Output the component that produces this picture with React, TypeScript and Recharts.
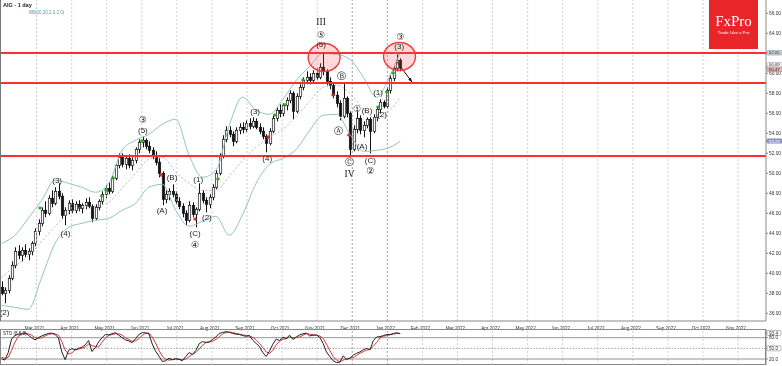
import { ComposedChart, Bar, Line, XAxis, YAxis, ReferenceLine, ReferenceDot } from 'recharts';

// one slot = two trading days
const months = ['Mar 2021', 'Apr 2021', 'May 2021', 'Jun 2021', 'Jul 2021', 'Aug 2021', 'Sep 2021', 'Oct 2021', 'Nov 2021', 'Dec 2021', 'Jan 2022',
  'Feb 2022', 'Mar 2022', 'Apr 2022', 'May 2022', 'Jun 2022', 'Jul 2022', 'Aug 2022', 'Sep 2022', 'Oct 2022', 'Nov 2022'];

const opens = [38.6, 38.0, 38.3, 39.5, 40.8, 42.2, 41.8, 42.3, 41.9, 42.2,
  43.0, 44.2, 45.0, 46.3, 46.0, 47.5, 47.0, 48.2, 47.7, 45.8,
  46.3, 47.0, 46.3, 46.9, 46.5, 46.8, 47.1, 46.7, 45.5, 46.6,
  47.2, 47.9, 48.5, 48.2, 49.5, 50.8, 51.6, 50.9, 51.5, 50.8,
  51.3, 52.4, 53.1, 53.3, 52.7, 52.3, 51.7, 51.1, 50.0, 47.4,
  47.9, 48.2, 47.9, 47.2, 46.7, 46.0, 45.3, 46.8, 45.9, 46.4,
  48.0, 47.3, 46.9, 47.6, 48.6, 50.0, 51.7, 53.4, 54.3, 53.9,
  53.2, 54.3, 54.6, 54.4, 55.0, 54.7, 55.2, 54.6, 54.2, 53.7,
  53.0, 54.2, 55.5, 56.3, 56.0, 56.8, 57.3, 58.0, 56.2, 57.7,
  58.6, 59.3, 59.6, 59.3, 60.0, 59.6, 60.6, 60.2, 59.2, 58.8,
  57.8, 57.0, 55.7, 57.5, 56.0, 52.4, 54.4, 55.5, 54.3, 54.8,
  55.4, 54.2, 55.6, 56.4, 57.1, 56.7, 58.3, 59.5, 60.5, 61.3];
const highs = [39.2, 38.6, 39.8, 41.2, 42.6, 42.8, 42.6, 42.9, 42.5, 43.2,
  44.5, 45.4, 46.6, 47.2, 47.8, 48.3, 48.6, 49.0, 48.0, 46.6,
  47.3, 47.4, 47.2, 47.3, 47.0, 47.5, 47.6, 46.9, 46.9, 47.4,
  48.2, 48.8, 49.1, 49.8, 51.0, 52.0, 52.0, 51.8, 51.9, 51.6,
  52.6, 53.4, 53.7, 53.5, 53.2, 52.6, 52.2, 51.5, 50.2, 48.3,
  48.5, 48.9, 48.2, 47.6, 47.0, 46.3, 47.2, 47.1, 46.6, 49.0,
  48.3, 47.6, 47.9, 48.9, 50.3, 52.0, 53.8, 54.7, 54.7, 54.2,
  54.6, 55.0, 55.1, 55.3, 55.5, 55.6, 55.5, 55.0, 54.6, 53.9,
  54.5, 55.8, 56.6, 56.9, 57.0, 57.6, 58.3, 58.2, 58.0, 58.9,
  59.6, 60.2, 60.0, 60.3, 60.5, 61.0, 62.1, 60.4, 59.6, 59.0,
  58.2, 57.3, 59.1, 57.7, 56.2, 54.8, 56.2, 55.8, 55.2, 55.6,
  55.6, 55.9, 56.7, 57.4, 57.3, 58.6, 59.8, 60.8, 61.9, 61.5];
const lows = [37.8, 37.0, 38.0, 39.3, 40.5, 41.4, 41.2, 41.6, 41.3, 41.8,
  42.7, 43.8, 44.7, 45.6, 45.8, 46.6, 46.8, 47.4, 45.4, 44.8,
  45.9, 46.0, 46.0, 46.2, 46.0, 46.4, 46.5, 45.1, 45.3, 46.3,
  46.9, 47.5, 47.9, 48.0, 49.3, 50.5, 50.6, 50.4, 50.5, 50.3,
  51.0, 52.0, 52.6, 52.4, 52.0, 51.4, 50.8, 49.6, 46.8, 47.0,
  47.3, 47.6, 46.9, 46.4, 45.6, 44.8, 45.1, 45.6, 44.6, 46.2,
  47.0, 46.1, 46.5, 47.3, 48.4, 49.8, 51.5, 53.1, 53.6, 52.7,
  53.0, 53.9, 54.0, 54.1, 54.4, 54.5, 54.4, 53.9, 53.4, 52.1,
  52.8, 54.0, 55.2, 55.6, 55.7, 56.3, 57.0, 55.4, 56.0, 57.4,
  58.3, 58.9, 58.9, 59.0, 59.3, 59.4, 59.8, 58.8, 58.4, 57.5,
  56.6, 55.3, 55.5, 55.6, 51.6, 52.2, 54.0, 53.9, 53.6, 54.5,
  52.0, 54.0, 55.2, 56.0, 56.5, 56.5, 58.0, 59.2, 60.2, 60.2];
const closes = [38.0, 38.3, 39.5, 40.8, 42.2, 41.8, 42.3, 41.9, 42.2, 43.0,
  44.2, 45.0, 46.3, 46.0, 47.5, 47.0, 48.2, 47.7, 45.8, 46.3,
  47.0, 46.3, 46.9, 46.5, 46.8, 47.1, 46.7, 45.5, 46.6, 47.2,
  47.9, 48.5, 48.2, 49.5, 50.8, 51.6, 50.9, 51.5, 50.8, 51.3,
  52.4, 53.1, 53.3, 52.7, 52.3, 51.7, 51.1, 50.0, 47.4, 47.9,
  48.2, 47.9, 47.2, 46.7, 46.0, 45.3, 46.8, 45.9, 46.4, 48.0,
  47.3, 46.9, 47.6, 48.6, 50.0, 51.7, 53.4, 54.3, 53.9, 53.2,
  54.3, 54.6, 54.4, 55.0, 54.7, 55.2, 54.6, 54.2, 53.7, 53.0,
  54.2, 55.5, 56.3, 56.0, 56.8, 57.3, 58.0, 56.2, 57.7, 58.6,
  59.3, 59.6, 59.3, 60.0, 59.6, 60.6, 60.2, 59.2, 58.8, 57.8,
  57.0, 55.7, 57.5, 56.0, 52.4, 54.4, 55.5, 54.3, 54.8, 55.4,
  54.2, 55.6, 56.4, 57.1, 56.7, 58.3, 59.5, 60.5, 61.3, 60.5];

// Bollinger bands, read every 4th slot
const bbIdx = [0, 4, 8, 12, 16, 20, 24, 28, 32, 36, 40, 44, 48, 52, 56, 60, 64, 68, 72, 76, 80, 84, 88, 92, 96, 100, 104, 108, 112, 116, 119];
const bbUpper = [43.0, 43.8, 45.5, 47.3, 49.3, 49.0, 48.6, 48.1, 49.0, 52.3, 53.3, 53.9, 54.9, 55.4, 51.8, 49.6, 50.3, 54.8, 57.6, 56.3, 55.9, 57.4, 59.3, 60.7, 62.0, 61.9, 61.4, 59.6, 57.6, 59.8, 62.1];
const bbMiddle = [39.6, 40.7, 41.7, 43.2, 44.7, 46.0, 46.6, 46.7, 47.1, 48.5, 50.0, 51.4, 51.6, 50.1, 49.0, 48.3, 48.3, 49.7, 51.3, 52.6, 53.6, 54.4, 55.7, 57.2, 58.6, 58.8, 58.0, 56.4, 55.5, 56.3, 57.6];
const bbLower = [36.8, 36.6, 36.4, 39.6, 43.0, 44.6, 45.0, 45.3, 45.5, 46.3, 47.0, 48.6, 48.9, 46.3, 44.7, 45.2, 45.7, 43.8, 45.9, 49.0, 50.9, 51.5, 52.4, 54.3, 55.8, 55.9, 53.9, 52.2, 52.3, 52.6, 53.2];

const stoK = [21, 17, 38, 76, 86, 90, 92, 94, 87, 80,
  74, 80, 85, 89, 92, 93, 89, 79, 40, 18,
  44, 49, 46, 50, 53, 60, 72, 41, 52, 68,
  80, 89, 88, 91, 94, 87, 80, 74, 71, 66,
  77, 89, 94, 94, 91, 62, 42, 28, 13, 15,
  22, 18, 21, 19, 15, 27, 38, 33, 44, 63,
  69, 67, 68, 75, 82, 92, 95, 97, 95, 92,
  90, 89, 86, 84, 86, 73, 64, 55, 38, 27,
  42, 62, 76, 72, 81, 78, 87, 75, 82, 88,
  91, 93, 85, 87, 88, 81, 64, 40, 27, 15,
  10, 11, 29, 19, 22, 31, 36, 40, 46, 50,
  46, 72, 82, 83, 86, 89, 89, 92, 94, 91];
const stoD = [25, 22, 25, 44, 67, 84, 89, 92, 91, 87,
  80, 78, 80, 85, 89, 91, 91, 87, 69, 45,
  34, 37, 46, 48, 50, 54, 62, 58, 55, 54,
  67, 79, 86, 89, 91, 91, 87, 80, 75, 70,
  71, 77, 87, 92, 93, 82, 65, 44, 28, 19,
  17, 18, 20, 19, 18, 20, 27, 33, 38, 48,
  59, 66, 68, 70, 75, 83, 90, 95, 96, 95,
  92, 90, 88, 86, 85, 81, 74, 64, 52, 40,
  36, 44, 60, 70, 76, 77, 82, 80, 81, 82,
  87, 91, 90, 88, 87, 85, 78, 62, 44, 27,
  17, 12, 17, 20, 23, 24, 30, 36, 41, 45,
  47, 56, 67, 79, 84, 86, 88, 90, 92, 92];

const levels = [62.03, 59.03, 51.73];
const priceTicks = [36, 38, 40, 42, 44, 46, 48, 50, 52, 54, 56, 58, 60, 62, 64, 66];
const priceTags = [62.05, 60.69, 60.47, 53.23];

// [text, slot, price]
const waveLabels: [string, number, number][] = [
  ['(2)', 0.9, 36.13], ['(3)', 16.6, 49.33], ['(4)', 19.1, 44.03], ['③', 42.2, 55.33], ['(5)', 42.2, 54.33],
  ['(A)', 47.9, 46.33], ['(B)', 50.9, 49.63], ['(C)', 57.8, 44.03], ['④', 57.8, 42.83], ['(1)', 58.7, 49.38],
  ['(2)', 61.3, 45.63], ['(3)', 75.7, 56.23], ['(4)', 79.3, 51.53], ['III', 95.4, 65.13], ['⑤', 95.4, 63.88],
  ['(5)', 95.4, 62.88], ['Ⓑ', 101.6, 59.73], ['Ⓐ', 100.7, 54.28], ['Ⓒ', 103.9, 51.18], ['IV', 103.9, 49.93],
  ['①', 106.1, 56.48], ['(B)', 109.1, 56.33], ['(A)', 107.6, 52.73], ['(C)', 110.1, 51.33], ['②', 110.1, 50.23],
  ['(1)', 112.4, 58.13], ['(2)', 113.6, 55.93], ['③', 119.0, 63.68], ['(3)', 118.7, 62.68],
];
const buyMarks = [[11.5, 46.53], [29.9, 47.73], [31.2, 48.33], [33.3, 49.53], [41.9, 53.23], [64.6, 49.43],
  [81.6, 55.83], [84.6, 56.83], [90.0, 59.33], [112.4, 56.63], [115.0, 58.13], [116.9, 60.03]];
const sellMarks = [[47.6, 49.83], [57.8, 45.43], [79.6, 53.63], [99.0, 57.83], [103.7, 53.83]];
const zones = [[96.3, 61.58], [118.8, 61.68]];
const arrowPath = [[118.06, 61.13], [122.54, 59.13]];

const X_DOMAIN: [number, number] = [-0.45, 228.2];
const MONTH_STEP = 10.47;
const monthTicks = months.map((_, k) => +((k + 1) * MONTH_STEP).toFixed(2));
const FONT = 'Arial, "Liberation Sans", sans-serif';

const candles = closes.map((close, i) => {
  const j = bbIdx.indexOf(i);
  return {
    i, open: opens[i], high: highs[i], low: lows[i], close,
    upper: j >= 0 ? bbUpper[j] : null,
    middle: j >= 0 ? bbMiddle[j] : null,
    lower: j >= 0 ? bbLower[j] : null,
  };
});
const stoData = stoK.map((k, i) => ({ i, k, d: stoD[i] }));

function Candle(props: any) {
  const { x, y, width, height, payload } = props;
  if (x == null || !payload) return null;
  const top = Math.min(y, y + height);
  const bottom = Math.max(y, y + height);
  const k = (bottom - top) / (payload.high - payload.low || 1);
  const yOf = (v: number) => top + (payload.high - v) * k;
  const cx = Math.round(x + width / 2) + 0.5;
  const yo = yOf(payload.open);
  const yc = yOf(payload.close);
  const up = payload.close >= payload.open;
  return (
    <g>
      <line x1={cx} x2={cx} y1={top} y2={bottom} stroke="#111" strokeWidth={1} />
      <rect x={cx - 1.2} y={Math.min(yo, yc)} width={2.4} height={Math.max(Math.abs(yo - yc), 0.8)}
        fill={up ? '#fff' : '#111'} stroke="#111" strokeWidth={0.7} />
    </g>
  );
}

const tagFill = ['#c9d9dd', '#ffffff', '#f4b0b0', '#8e98cf'];
const tagText = ['#222', '#222', '#222', '#fff'];

function PriceTick(props: any) {
  const { x, y, payload } = props;
  const v = payload.value;
  const j = priceTags.indexOf(v);
  if (j < 0) {
    return <text x={x} y={y} dy={1.7} fontSize={4.8} fill="#333" fontFamily={FONT}>{v.toFixed(2)}</text>;
  }
  // stack the two close tags the way the terminal does
  const shift = j === 1 ? -1.6 : j === 2 ? 0.8 : 0;
  return (
    <g>
      <rect x={x - 2} y={y + shift - 2.3} width={15} height={4.6} rx={1} fill={tagFill[j]} stroke="#8a8a8a" strokeWidth={0.5} />
      <text x={x} y={y + shift} dy={1.5} fontSize={4.3} fill={tagText[j]} fontFamily={FONT}>{v.toFixed(2)}</text>
    </g>
  );
}

const stoTags = [93.4, 80, 50, 20];
function StoTick(props: any) {
  const { x, y, payload } = props;
  const v = payload.value;
  const boxed = v === 93.4 || v === 50;
  return (
    <g>
      {boxed && <rect x={x - 2} y={y - 2.5} width={14} height={5} rx={1} fill="#fff" stroke="#777" strokeWidth={0.5} />}
      <text x={x} y={y} dy={1.6} fontSize={4.6} fill="#333" fontFamily={FONT}>{v.toFixed(1)}</text>
    </g>
  );
}

function labelFont(t: string) {
  if (t === 'III' || t === 'IV') return { family: '"Liberation Serif", "Times New Roman", serif', size: 9.5 };
  if (t.startsWith('(')) return { family: FONT, size: 8 };
  return { family: '"DejaVu Sans", sans-serif', size: 9 };
}

function gridLines(keyPrefix: string) {
  return monthTicks.map((t, k) => (
    <ReferenceLine key={keyPrefix + k} x={t} stroke={k === 9 || k === 10 ? '#8c8c8c' : '#c4c4c4'}
      strokeDasharray="2 2" strokeWidth={0.8} />
  ));
}

export default function App() {
  return (
    <div style={{ position: 'relative', width: 782, height: 366, background: '#fff', overflow: 'hidden', willChange: 'transform' }}>
      <style>{'body{margin:0}'}</style>

      <div style={{ position: 'absolute', left: 0, top: 0 }}>
        <ComposedChart width={782} height={332} data={candles} margin={{ top: 0, right: 0, bottom: 0, left: 0 }}>
          <XAxis dataKey="i" type="number" domain={X_DOMAIN} allowDataOverflow ticks={monthTicks} interval={0}
            tickFormatter={(_v: any, k: number) => months[k]} height={11} tickLine={false} tickMargin={0}
            axisLine={{ stroke: '#888' }} tick={{ fontSize: 4.6, fill: '#333', fontFamily: FONT, dx: -2 }} />
          <YAxis orientation="right" width={16} domain={[35.23, 67.33]} allowDataOverflow
            ticks={[...priceTicks, ...priceTags]} interval={0} tickSize={2} tickMargin={1}
            tickLine={{ stroke: '#888' }} axisLine={{ stroke: '#888' }}
            tick={(p: any) => <PriceTick {...p} />} />
          {gridLines('g')}
          <Line dataKey="upper" type="monotone" connectNulls dot={false} stroke="#93c3c6" strokeWidth={1} isAnimationActive={false} />
          <Line dataKey="middle" type="monotone" connectNulls dot={false} stroke="#a5a5a5" strokeWidth={0.8} strokeDasharray="2 2" isAnimationActive={false} />
          <Line dataKey="lower" type="monotone" connectNulls dot={false} stroke="#93c3c6" strokeWidth={1} isAnimationActive={false} />
          {levels.map((v) => (
            <ReferenceLine key={'lv' + v} y={v} stroke="#ff2f2f" strokeWidth={2} />
          ))}
          <Bar dataKey={(d: any) => [d.low, d.high]} barSize={2} isAnimationActive={false}
            shape={(p: any) => <Candle {...p} />} />
          {zones.map(([x, y], k) => (
            <ReferenceDot key={'z' + k} x={x} y={y} r={15}
              shape={(p: any) => (
                <ellipse cx={p.cx} cy={p.cy} rx={16} ry={14} fill="rgba(255,80,80,0.22)" stroke="#f03a3a" strokeWidth={1.4} />
              )} />
          ))}
          <ReferenceLine segment={[{ x: arrowPath[0][0], y: arrowPath[0][1] }, { x: arrowPath[1][0], y: arrowPath[1][1] }]}
            shape={(p: any) => {
              const ang = Math.atan2(p.y2 - p.y1, p.x2 - p.x1);
              const s = 4.5;
              const a1 = ang + Math.PI - 0.4;
              const a2 = ang + Math.PI + 0.4;
              return (
                <g>
                  <line x1={p.x1} y1={p.y1} x2={p.x2} y2={p.y2} stroke="#111" strokeWidth={1} />
                  <polygon fill="#111" points={`${p.x2},${p.y2} ${p.x2 + s * Math.cos(a1)},${p.y2 + s * Math.sin(a1)} ${p.x2 + s * Math.cos(a2)},${p.y2 + s * Math.sin(a2)}`} />
                </g>
              );
            }} />
          {buyMarks.map(([x, y], k) => (
            <ReferenceDot key={'b' + k} x={x} y={y} r={2}
              shape={(p: any) => (
                <path d={`M${p.cx - 1.8},${p.cy}H${p.cx + 1.8}M${p.cx},${p.cy - 1.8}V${p.cy + 1.8}`} stroke="#1faa1f" strokeWidth={1.3} />
              )} />
          ))}
          {sellMarks.map(([x, y], k) => (
            <ReferenceDot key={'s' + k} x={x} y={y} r={2}
              shape={(p: any) => (
                <path d={`M${p.cx - 1.8},${p.cy}H${p.cx + 1.8}M${p.cx},${p.cy - 1.8}V${p.cy + 1.8}`} stroke="#e02020" strokeWidth={1.3} />
              )} />
          ))}
          {waveLabels.map(([t, x, y], k) => {
            const f = labelFont(t);
            return (
              <ReferenceDot key={'w' + k} x={x} y={y} r={1}
                shape={(p: any) => (
                  <text x={p.cx} y={p.cy} dy="0.35em" textAnchor="middle" fontSize={f.size} fontFamily={f.family} fill="#222">{t}</text>
                )} />
            );
          })}
        </ComposedChart>
      </div>

      <div style={{ position: 'absolute', left: 0, top: 0, width: 1, height: 321, background: '#777' }} />
      <div style={{ position: 'absolute', left: 3, top: 2, fontFamily: FONT, fontSize: 5.5, lineHeight: '7px', fontWeight: 'bold', color: '#222' }}>AIG - 1 day</div>
      <div style={{ position: 'absolute', left: 29, top: 10, fontFamily: FONT, fontSize: 4.5, lineHeight: '6px', color: '#5f9ea0' }}>BB(20,20,2.0,2.0)</div>

      <div style={{ position: 'absolute', left: 709, top: 0, width: 49, height: 49, background: '#e8262a', color: '#fff', textAlign: 'center' }}>
        <div style={{ fontFamily: '"Liberation Serif", serif', fontSize: 15, lineHeight: '15px', marginTop: 14 }}>FxPro</div>
        <div style={{ fontFamily: FONT, fontSize: 4.3, lineHeight: '6px', marginTop: 1 }}>Trade Like a Pro</div>
      </div>

      <div style={{ position: 'absolute', left: 0, top: 329, width: 766, height: 36, border: '1px solid #888', boxSizing: 'border-box' }} />
      <div style={{ position: 'absolute', left: 0, top: 329 }}>
        <ComposedChart width={782} height={36} data={stoData} margin={{ top: 0, right: 0, bottom: 0, left: 0 }}>
          <XAxis dataKey="i" type="number" domain={X_DOMAIN} allowDataOverflow hide />
          <YAxis orientation="right" width={16} domain={[3.1, 104.5]} allowDataOverflow ticks={stoTags} interval={0}
            tickSize={2} tickMargin={1} tickLine={{ stroke: '#888' }} axisLine={{ stroke: '#888' }}
            tick={(p: any) => <StoTick {...p} />} />
          {gridLines('sg')}
          <ReferenceLine y={80} stroke="#777" strokeWidth={0.8} />
          <ReferenceLine y={50} stroke="#888" strokeWidth={0.8} strokeDasharray="1.5 1.5" />
          <ReferenceLine y={20} stroke="#777" strokeWidth={0.8} />
          <Line dataKey="d" type="linear" dot={false} stroke="#d23a3a" strokeWidth={1} isAnimationActive={false} />
          <Line dataKey="k" type="linear" dot={false} stroke="#222" strokeWidth={1} isAnimationActive={false} />
        </ComposedChart>
      </div>
      <div style={{ position: 'absolute', left: 3, top: 331, fontFamily: FONT, fontSize: 4.5, lineHeight: '6px', color: '#222' }}>STO (8,5,3)</div>
    </div>
  );
}
